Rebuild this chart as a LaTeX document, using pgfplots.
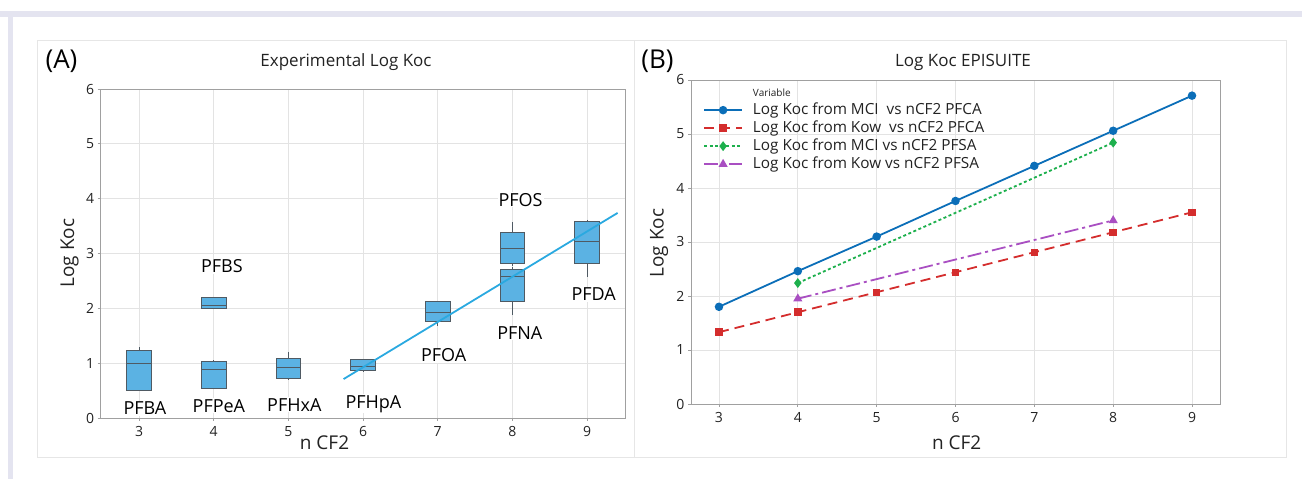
\documentclass[border=0pt]{standalone}
\usepackage{pgfplots}
\pgfplotsset{compat=1.18}
\usepgfplotslibrary{statistics}
\usepackage{fontspec}
\setmainfont{Open Sans}

\definecolor{lav}{HTML}{E4E4F0}
\definecolor{framec}{HTML}{E6E6E6}
\definecolor{gridc}{HTML}{E3E3E3}
\definecolor{axc}{HTML}{A0A0A0}
\definecolor{txt}{HTML}{222222}
\definecolor{boxfill}{HTML}{5BB2E3}
\definecolor{boxedge}{HTML}{4F5A63}
\definecolor{regline}{HTML}{2AA9E0}
\definecolor{cblue}{HTML}{0B6EB8}
\definecolor{cred}{HTML}{D42D2D}
\definecolor{cgreen}{HTML}{1DB04D}
\definecolor{cpurple}{HTML}{A94FC2}

\pgfplotsset{
  panel/.style={
    scale only axis, anchor=south west,
    axis line style={axc, line width=0.9pt},
    grid=major, grid style={gridc, line width=0.8pt},
    tick align=outside, tick pos=left, major tick length=3pt,
    tick style={axc, line width=0.8pt},
    ticklabel style={font=\fontsize{14}{14}\selectfont, text=txt},
    xticklabel style={yshift=-1.5pt},
    /pgf/number format/assume math mode=true,
    xtick={3,...,9}, ytick={0,...,6}, ymin=0, ymax=6,
  },
  boxst/.style={draw=boxedge, fill=boxfill, line width=0.9pt,
    boxplot/box extend=0.33, boxplot/whisker extend=0},
}
\tikzset{lbl/.style={font=\fontsize{18}{18}\selectfont, text=black, fill=white, inner sep=1pt}}

\begin{document}
\begin{tikzpicture}[x=1pt,y=1pt]
\useasboundingbox (0,0) rectangle (1302,479);
% frame decoration
\fill[lav] (0,462.3) rectangle (1302,468);
\fill[lav] (8.3,0) rectangle (13.3,468);
\draw[framec, line width=0.8pt] (37,439) rectangle (634,22);
\draw[framec, line width=0.8pt] (634,439) rectangle (1286,22);

\node[font=\fontsize{26}{26}\selectfont] at (61.5,418) {(A)};
\node[font=\fontsize{26}{26}\selectfont] at (657.5,418) {(B)};
\node[font=\fontsize{17}{17}\selectfont, text=txt] at (346,417.3) {Experimental Log Koc};
\node[font=\fontsize{17}{17}\selectfont, text=txt] at (963,417) {Log Koc EPISUITE};

% panel A
\begin{axis}[panel, at={(100.7pt,61pt)}, width=524.3pt, height=329pt,
  xmin=2.487, xmax=9.509, boxplot/draw direction=y]
\addplot[boxst, boxplot prepared={draw position=3, lower whisker=0.50, lower quartile=0.50, median=0.99, upper quartile=1.23, upper whisker=1.29}] coordinates {};
\addplot[boxst, boxplot prepared={draw position=4, lower whisker=2.00, lower quartile=2.00, median=2.05, upper quartile=2.20, upper whisker=2.20}] coordinates {};
\addplot[boxst, boxplot prepared={draw position=4, lower whisker=0.54, lower quartile=0.54, median=0.89, upper quartile=1.03, upper whisker=1.05}] coordinates {};
\addplot[boxst, boxplot prepared={draw position=5, lower whisker=0.70, lower quartile=0.73, median=0.92, upper quartile=1.08, upper whisker=1.21}] coordinates {};
\addplot[boxst, boxplot prepared={draw position=6, lower whisker=0.85, lower quartile=0.86, median=0.94, upper quartile=1.06, upper whisker=1.06}] coordinates {};
\addplot[boxst, boxplot prepared={draw position=7, lower whisker=1.68, lower quartile=1.76, median=1.93, upper quartile=2.12, upper whisker=2.12}] coordinates {};
\addplot[boxst, boxplot prepared={draw position=8, lower whisker=2.77, lower quartile=2.81, median=3.09, upper quartile=3.39, upper whisker=3.57}] coordinates {};
\addplot[boxst, boxplot prepared={draw position=8, lower whisker=1.87, lower quartile=2.12, median=2.58, upper quartile=2.71, upper whisker=2.75}] coordinates {};
\addplot[boxst, boxplot prepared={draw position=9, lower whisker=2.58, lower quartile=2.81, median=3.22, upper quartile=3.59, upper whisker=3.62}] coordinates {};
\addplot[regline, line width=1.8pt] coordinates {(5.74,0.71) (9.41,3.74)};
\node[lbl] at (axis cs:3.08,0.18) {PFBA};
\node[lbl] at (axis cs:4.07,0.22) {PFPeA};
\node[lbl] at (axis cs:5.08,0.24) {PFHxA};
\node[lbl] at (axis cs:6.14,0.26) {PFHpA};
\node[lbl] at (axis cs:4.11,2.77) {PFBS};
\node[lbl] at (axis cs:7.08,1.14) {PFOA};
\node[lbl] at (axis cs:8.11,3.98) {PFOS};
\node[lbl] at (axis cs:8.10,1.55) {PFNA};
\node[lbl] at (axis cs:9.09,2.26) {PFDA};
\end{axis}

% panel B
\begin{axis}[panel, at={(691pt,75pt)}, width=529pt, height=324pt,
  xmin=2.645, xmax=9.355,
  legend cell align=left,
  legend style={at={(rel axis cs:0.017,0.994)}, anchor=north west, draw=none, fill=none,
    font=\fontsize{15.3}{15.3}\selectfont, text=txt, row sep=2pt, column sep=8pt,
    nodes={inner ysep=1pt, text height=11pt, text depth=3pt}},
  legend image code/.code={\draw[mark repeat=2,mark phase=2,#1] plot coordinates {(0pt,0pt) (19pt,0pt) (38pt,0pt)};}]
\addlegendimage{empty legend}
\addlegendentry{\fontsize{10}{10}\selectfont Variable}
\addplot[cblue, line width=1.8pt, mark=*, mark size=3.3pt] coordinates {(3,1.80) (4,2.46) (5,3.10) (6,3.76) (7,4.41) (8,5.06) (9,5.71)};
\addlegendentry{Log Koc from MCI~ vs nCF2 PFCA}
\addplot[cred, line width=1.8pt, dash pattern=on 10pt off 6pt, mark=square*, mark size=2.8pt, mark options={solid}] coordinates {(3,1.33) (4,1.70) (5,2.07) (6,2.44) (7,2.81) (8,3.18) (9,3.55)};
\addlegendentry{Log Koc from Kow~ vs nCF2 PFCA}
\addplot[cgreen, line width=1.8pt, dash pattern=on 3pt off 2.5pt, mark=diamond*, mark size=3.5pt, mark options={solid}] coordinates {(4,2.24) (8,4.84)};
\addlegendentry{Log Koc from MCI vs nCF2 PFSA}
\addplot[cpurple, line width=1.8pt, dash pattern=on 14pt off 4pt on 3pt off 4pt, mark=triangle*, mark size=3.5pt, mark options={solid}] coordinates {(4,1.95) (8,3.40)};
\addlegendentry{Log Koc from Kow vs nCF2 PFSA}
\end{axis}

\node[font=\fontsize{19}{19}\selectfont, text=txt, rotate=90] at (69.5,226) {Log Koc};
\node[font=\fontsize{19}{19}\selectfont, text=txt, rotate=90] at (659,236) {Log Koc};
\node[font=\fontsize{19}{19}\selectfont, text=txt, fill=white, inner sep=2pt] at (324.5,36) {n CF2};
\node[font=\fontsize{19}{19}\selectfont, text=txt] at (956.7,36) {n CF2};
\end{tikzpicture}
\end{document}
